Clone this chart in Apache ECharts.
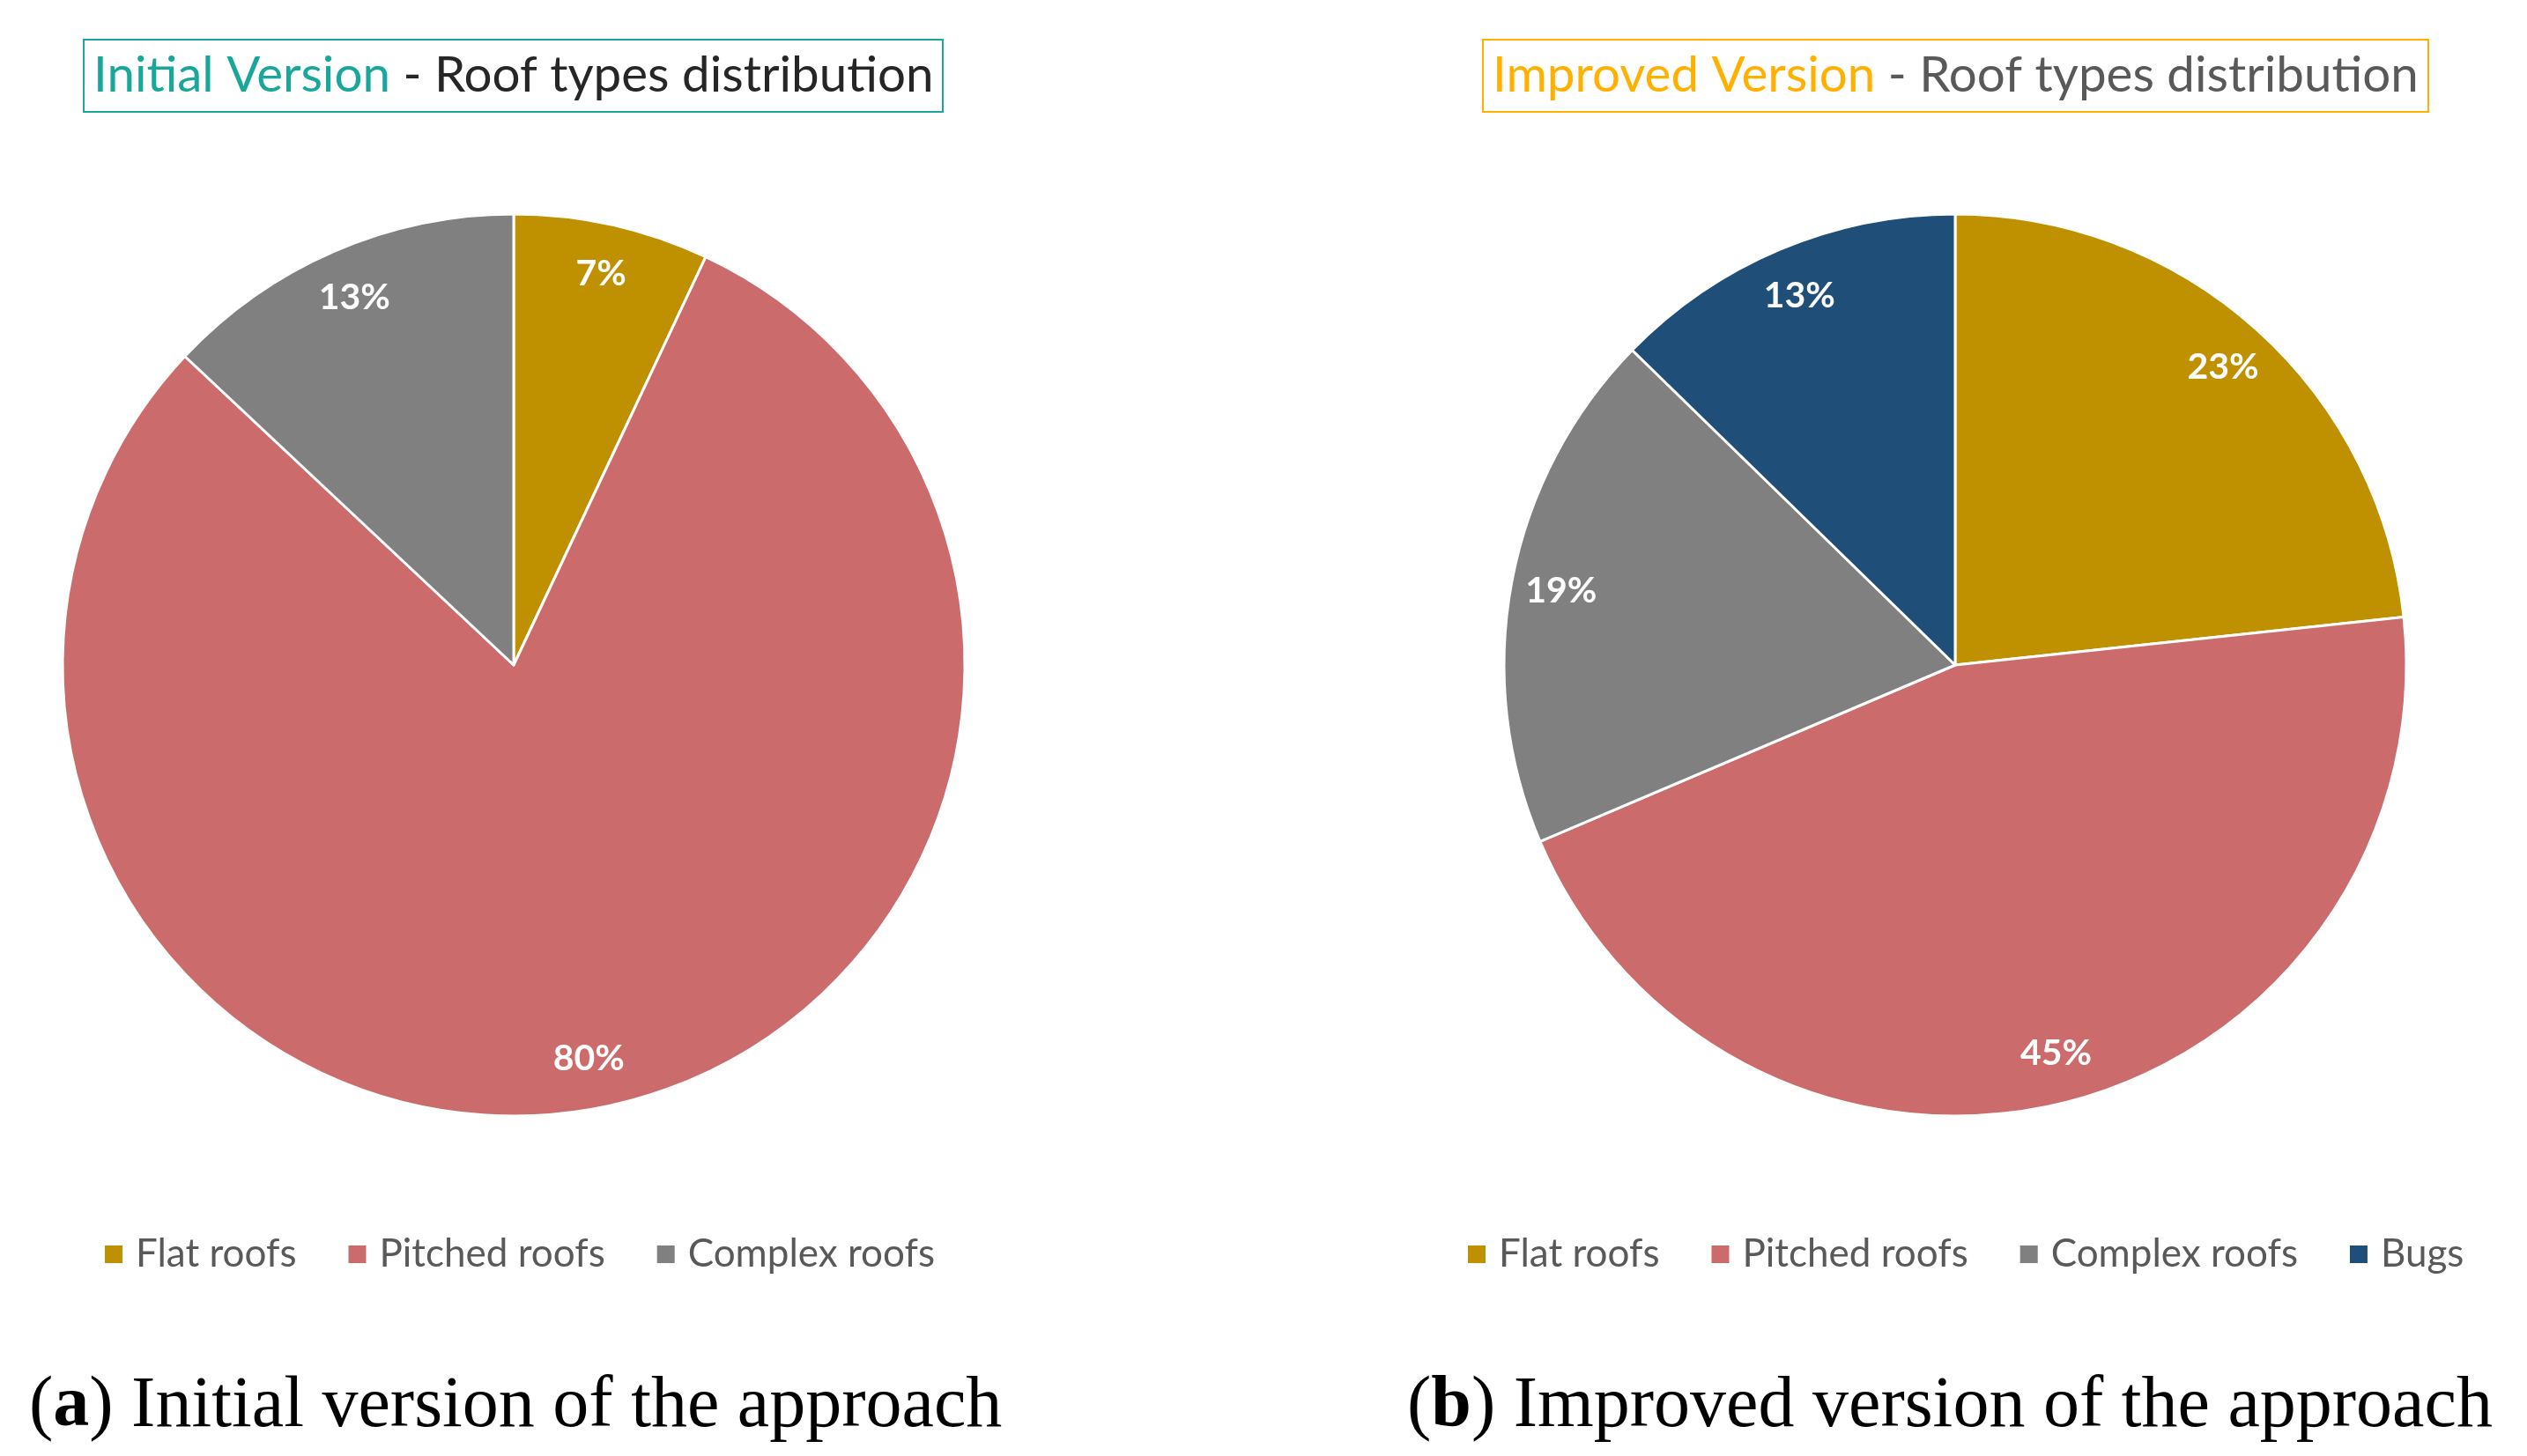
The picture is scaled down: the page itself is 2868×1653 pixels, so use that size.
<!DOCTYPE html>
<html><head><meta charset="utf-8">
<script src="https://cdn.jsdelivr.net/npm/echarts@6/dist/echarts.min.js"></script>
<style>html,body{margin:0;padding:0;background:#fff}#c{width:2868px;height:1653px}</style>
</head><body><div id="c"></div>
<script>
// ---- data ----
const categoriesA = ['Flat roofs', 'Pitched roofs', 'Complex roofs'];
const valuesA = [7, 80, 13];
const categoriesB = ['Flat roofs', 'Pitched roofs', 'Complex roofs', 'Bugs'];
const valuesB = [23.3, 45.3, 18.7, 12.7];
const titleA = ['Initial Version', ' - Roof types distribution'];
const titleB = ['Improved Version', ' - Roof types distribution'];
const captionA = ['a', ' Initial version of the approach'];
const captionB = ['b', ' Improved version of the approach'];

// ---- style ----
const palette = {'Flat roofs': '#BF9000', 'Pitched roofs': '#CB6B6B', 'Complex roofs': '#808080', 'Bugs': '#1F4E79'};
const SANS = 'Lato, "Open Sans", sans-serif';
const SERIF = '"Liberation Serif", "DejaVu Serif", serif';
const R = 512;

function mk(cats, vals) {
  return cats.map((n, i) => ({name: n, value: vals[i], itemStyle: {color: palette[n]}}));
}
function pieSeries(cats, vals, cx) {
  const base = {
    type: 'pie', center: [cx, 755], startAngle: 90, clockwise: true,
    silent: true, emphasis: {disabled: true}, animation: false, percentPrecision: 0
  };
  return [
    Object.assign({}, base, {
      radius: [0, R], data: mk(cats, vals),
      itemStyle: {borderColor: '#ffffff', borderWidth: 3},
      label: {show: false}, labelLine: {show: false}
    }),
    Object.assign({}, base, {
      radius: [392, R], data: mk(cats, vals).map(d => Object.assign(d, {itemStyle: {color: 'rgba(0,0,0,0)', borderWidth: 0}})),
      label: {show: true, position: 'inside', formatter: '{d}%', color: '#ffffff', fontSize: 41, fontWeight: 'bold', fontFamily: SANS},
      labelLine: {show: false}
    })
  ];
}
function boxTitle(parts, left, c1, c2, border) {
  const st = {fontSize: 56.5, fontFamily: SANS, fontWeight: 'normal', lineHeight: 62};
  return {
    text: '{a|' + parts[0] + '}{b|' + parts[1] + '}', left: left, top: 42,
    borderColor: border, borderWidth: 2, padding: [13, 11, 13, 11],
    textStyle: {fontWeight: 'normal', rich: {
      a: Object.assign({color: c1}, st),
      b: Object.assign({color: c2}, st)
    }}
  };
}
function caption(parts, left) {
  return {
    text: '({b|' + parts[0] + '})' + parts[1], left: left, top: 1556, padding: 0,
    textStyle: {fontFamily: SERIF, fontSize: 82, fontWeight: 'normal', color: '#000000',
      rich: {b: {fontFamily: SERIF, fontSize: 82, fontWeight: 'bold', color: '#000000'}}}
  };
}
function legend(cats, left) {
  return {
    data: cats, left: left, top: 1402, orient: 'horizontal', icon: 'rect',
    itemWidth: 22, itemHeight: 22, itemGap: 57, padding: 0, selectedMode: false,
    textStyle: {fontSize: 44, color: '#595959', fontFamily: SANS, padding: [0, 0, 0, 9]}
  };
}

const chart = echarts.init(document.getElementById('c'), null, {renderer: 'canvas'});
chart.setOption({
  backgroundColor: '#ffffff',
  animation: false,
  title: [
    boxTitle(titleA, 95, '#1AA79B', '#262626', '#1AA79B'),
    boxTitle(titleB, 1683, '#FFB000', '#595959', '#FFB000'),
    caption(captionA, 33),
    caption(captionB, 1597)
  ],
  legend: [legend(categoriesA, 117), legend(categoriesB, 1664)],
  series: [].concat(pieSeries(categoriesA, valuesA, 583), pieSeries(categoriesB, valuesB, 2219))
});
</script></body></html>
